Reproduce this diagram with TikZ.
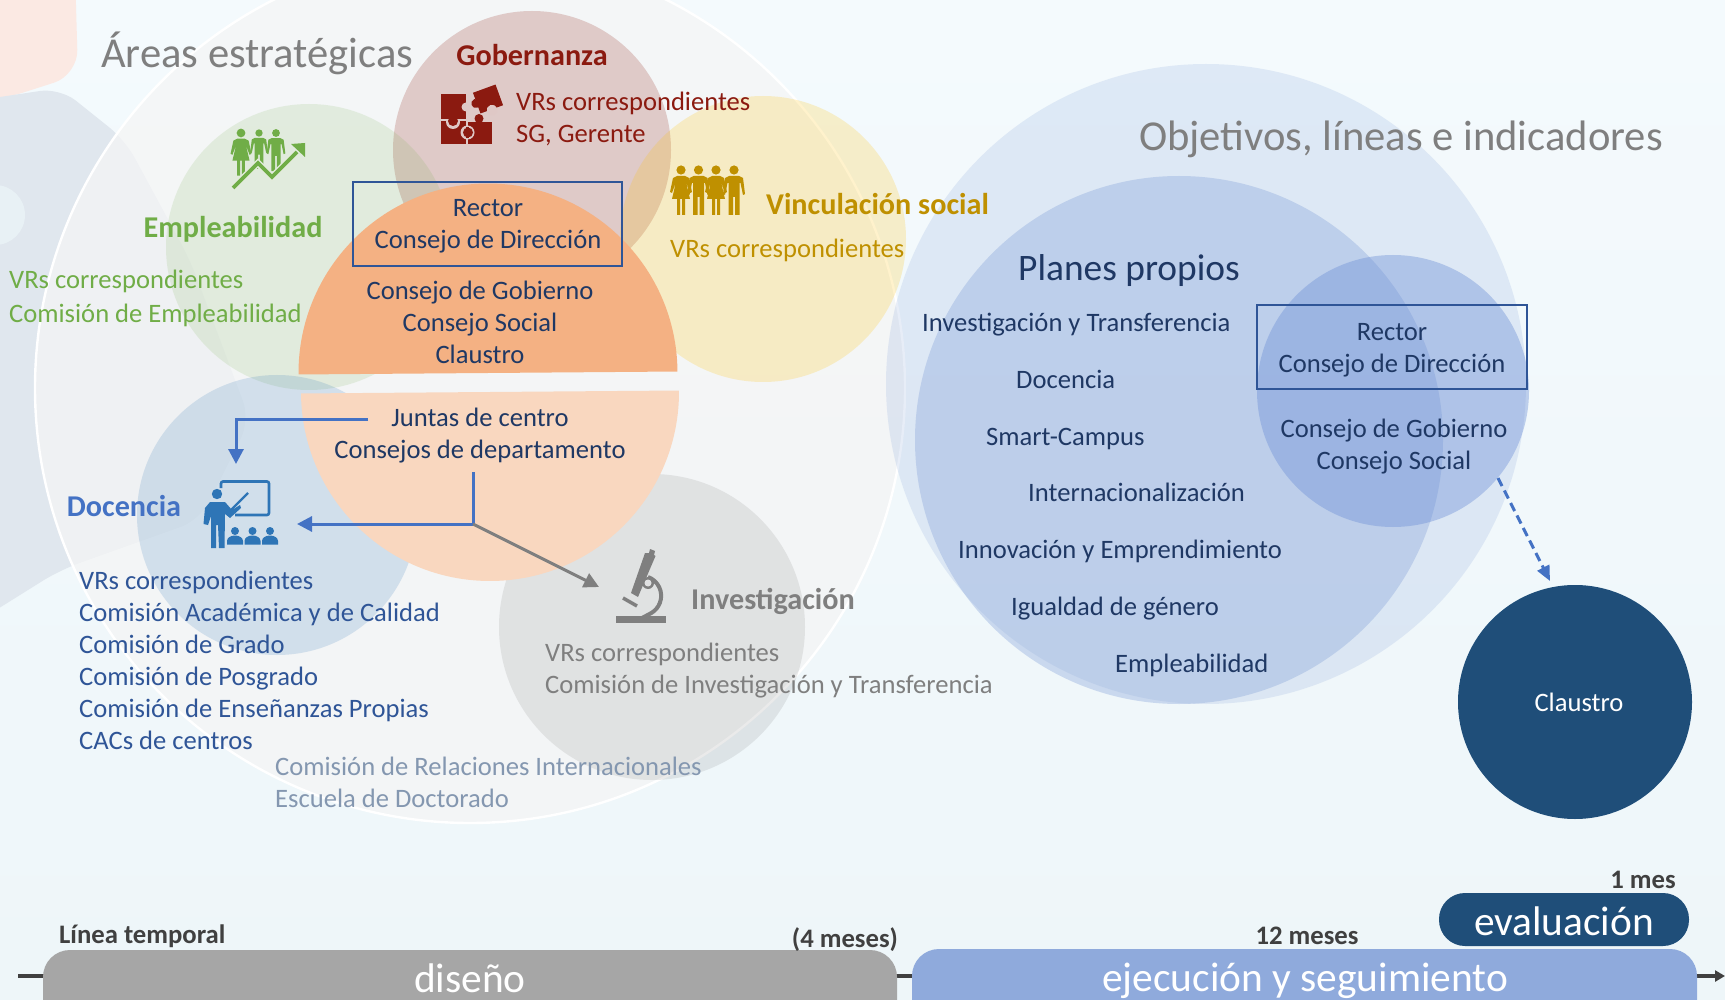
\documentclass[tikz,border=0pt]{standalone}
\usepackage{fontspec}
\setmainfont{Carlito}
\usetikzlibrary{arrows.meta}
\definecolor{navy}{HTML}{1F3864}
\definecolor{gob}{HTML}{8B1A10}
\definecolor{gre}{HTML}{70AD47}
\definecolor{ora}{HTML}{BF9000}
\definecolor{doc}{HTML}{4472C4}
\definecolor{docl}{HTML}{2F5597}
\definecolor{gra}{HTML}{7F7F7F}
\definecolor{slate}{HTML}{8497B0}
\definecolor{dark}{HTML}{404040}
\definecolor{claus}{HTML}{1F4E79}
\definecolor{teach}{HTML}{2E75B6}
\definecolor{bgT}{HTML}{F4FAFD}
\definecolor{bgB}{HTML}{EEF6F9}
\definecolor{blobR}{HTML}{FBE9E3}
\definecolor{blobB}{HTML}{E0E7EE}
\definecolor{blobC}{HTML}{E8F1F5}
\definecolor{innerC}{HTML}{F5F5F5}
\definecolor{yel}{HTML}{FFC000}
\definecolor{oraT}{HTML}{F4B183}
\definecolor{oraB}{HTML}{F9D7BF}
\definecolor{bluA}{HTML}{8FAADC}
\definecolor{bluB}{HTML}{6C8FD6}
\definecolor{gobBg}{HTML}{DFC8C6}
\definecolor{empBg}{HTML}{E3EBDC}
\definecolor{invBg}{HTML}{E0E1E2}
\definecolor{barG}{HTML}{A6A6A6}
\newcommand\fs[1]{\fontsize{#1}{32}\selectfont}
\newcommand\iconman[4]{\begin{scope}[shift={(#1,#2)},scale=#3]
\fill[#4] (0,0) circle (4.6);
\fill[#4] (-5,6)--(5,6)--(9,8)--(11,24)--(9,25)--(6.5,13)--(5.5,13)--(5.5,45)--(1,45)--(1,27)--(-1,27)--(-1,45)--(-5.5,45)--(-5.5,13)--(-6.5,13)--(-9,25)--(-11,24)--(-9,8)--cycle;
\end{scope}}
\newcommand\iconwoman[4]{\begin{scope}[shift={(#1,#2)},scale=#3]
\fill[#4] (0,0) circle (4.6);
\fill[#4] (-4,6)--(4,6)--(8,8)--(11,22)--(9,23)--(5,12)--(9,29)--(4,29)--(4,45)--(1,45)--(1,29)--(-1,29)--(-1,45)--(-4,45)--(-4,29)--(-9,29)--(-5,12)--(-9,23)--(-11,22)--(-8,8)--cycle;
\end{scope}}
\tikzset{
  x=1pt,y=-1pt,
  txt/.style={inner sep=0pt,align=left,anchor=west},
  ctr/.style={inner sep=0pt,align=center,anchor=center},
  body/.style={font=\fs{26.6}},
  head/.style={font=\bfseries\fs{30.2}},
  big/.style={font=\fs{42.6}},
  tl/.style={font=\bfseries\fs{26.7},text=dark,inner sep=0pt},
  barlab/.style={font=\fs{41.4},text=white,inner sep=0pt},
  conn/.style={draw=doc,line width=3pt},
  tip/.style={-{Triangle[length=15pt,width=15pt]}},
}
\begin{document}
\begin{tikzpicture}
\useasboundingbox (0,0) rectangle (1725,1000);
\clip (0,0) rectangle (1725,1000);
% background
\shade[top color=bgT,bottom color=bgB] (0,0) rectangle (1725,1000);
\fill[blobR,rounded corners=25pt] (-30,-30)--(75,-30)--(78,75)--(0,100)--(-30,100)--cycle;
\fill[blobB,rounded corners=20pt] (-20,100)--(60,88)--(125,140)--(190,260)--(250,420)--(200,520)--(60,570)--(-20,620)--cycle;
\fill[blobC] (-5,215) circle (30);
% big circle
\fill[innerC,opacity=.72] (470,388) circle (435);
\draw[white,line width=2.4pt] (470,388) circle (435);
% coloured discs
\fill[gob,opacity=.2] (532,150) circle (139);
\fill[gre,opacity=.14] (309,247) circle (143);
\fill[yel,opacity=.2] (763,239) circle (143);
\fill[teach,opacity=.17] (277,515) circle (140);
\fill[gra,opacity=.16] (652,627) circle (153);
% halves
\fill[oraT,rotate around={0.45:(488,373)}] (298.5,373) arc[start angle=180,end angle=360,radius=189.5]--cycle;
\fill[oraB,rotate around={0.45:(490,392)}] (301,392) arc[start angle=180,end angle=0,radius=189]--cycle;
% right discs
\fill[bluA,opacity=.21] (1206,384) circle (320);
\fill[bluA,opacity=.4] (1179,440) circle (264);
\fill[bluB,opacity=.4] (1393,391) circle (136);
\fill[claus] (1575,702) circle (117);
% boxes
\node[draw=docl,line width=2.4pt,minimum width=269pt,minimum height=84pt,inner sep=0pt] (boxL) at (487.5,224) {};
\node[draw=docl,line width=2.4pt,minimum width=270pt,minimum height=84pt,inner sep=0pt] (boxR) at (1392,347) {};
% titles
\node[txt,big,text=gra] (t1) at (101,53) {Áreas estratégicas};
\node[inner sep=0pt,anchor=east,big,text=gra] (t2) at (1663,139) {Objetivos, líneas e indicadores};
% Gobernanza
\node[ctr,head,text=gob] (gobT) at (532,55) {Gobernanza};
\node[txt,body,text=gob] (gobL) at (516,119) {VRs correspondientes\\SG, Gerente};
\fill[gob] (441,121.5) rectangle (466,144);
\fill[gob] (468,122) rectangle (492,144);
\fill[gobBg] (453,122) circle (7);
\fill[gob] (441,94) rectangle (466,119.5);
\fill[gob] (453,121) circle (5);
\fill[gobBg] (466,107) circle (4.5);
\fill[gobBg] (467.5,132.5) circle (7);
\fill[gob] (466,127) rectangle (469,138);
\fill[gob] (468,132.5) circle (5);
\fill[gob] (479,118.5) circle (4.5);
\begin{scope}[rotate around={20:(488,99)}]
\fill[gob] (476,88) rectangle (500,110);
\fill[gobBg] (488,111) circle (5.5);
\fill[gob] (475,99) circle (4.5);
\end{scope}
% Empleabilidad
\iconwoman{241}{133}{0.95}{gre}
\iconman{259}{133}{0.8}{gre}
\iconman{276}{133}{0.85}{gre}
\draw[empBg,line width=6.5pt] (233,188)--(258,163)--(272,177)--(297,152);
\draw[gre,line width=3.8pt] (233,188)--(258,163)--(272,177)--(297,152);
\fill[gre] (291,144)--(305,143)--(305,157)--cycle;
\node[ctr,head,text=gre] (empT) at (233,229) {Empleabilidad};
\node[txt,text=gre,font=\fontsize{26.6}{34}\selectfont] (empL) at (9,298) {VRs correspondientes\\Comisión de Empleabilidad};
% Vinculacion
\iconwoman{681}{170}{1}{ora}
\iconman{698.5}{170}{1}{ora}
\iconwoman{716}{170}{1}{ora}
\iconman{734}{170}{1}{ora}
\node[txt,head,text=ora] (vinT) at (766,204.5) {Vinculación social};
\node[txt,body,text=ora] (vinL) at (670,250) {VRs correspondientes};
% centre
\node[ctr,body,text=navy] (rec1) at (488,226.5) {Rector\\Consejo de Dirección};
\node[ctr,body,text=navy] (cg) at (480,322) {Consejo de Gobierno\\Consejo Social\\Claustro};
\node[ctr,body,text=navy] (jc) at (480,436) {Juntas de centro\\Consejos de departamento};
% Docencia
\node[ctr,head,text=doc] (docT) at (124,506) {Docencia};
\node[txt,body,text=docl] (docL) at (79,660) {VRs correspondientes\\Comisión Académica y de Calidad\\Comisión de Grado\\Comisión de Posgrado\\Comisión de Enseñanzas Propias\\CACs de centros};
\draw[teach,line width=2.6pt,rounded corners=2pt] (221,488)--(221,481.5)--(269,481.5)--(269,515)--(235,515);
\fill[teach] (217,494) circle (5.2);
\draw[teach,line width=2.4pt] (228,513)--(248,493);
\fill[teach] (210,502)--(225,502)--(232,510)--(240,505)--(241,508)--(230,518)--(225,514)--(224.5,548)--(219,548)--(218,525)--(216,525)--(216,548)--(211,548)--(211,516)--(208,525)--(203.5,524)--(205,508)--cycle;
\foreach \sx in {235,252.5,270}{
  \fill[teach] (\sx,531) circle (4);
  \fill[teach] (\sx-8,544.5)--(\sx-8,541) arc[start angle=180,end angle=360,x radius=8,y radius=5.5]--(\sx+8,544.5)--cycle;
}
% connectors
\coordinate (a0) at (368,419);
\coordinate (a1) at (236,419);
\coordinate (a2) at (236,464);
\coordinate (b0) at (473,472);
\coordinate (bm) at (473,524);
\coordinate (b1) at (297,524);
\coordinate (c1) at (599,587);
\coordinate (d0) at (1498,478);
\coordinate (d1) at (1550,581);
\draw[conn,tip] (a0)--(a1)--(a2);
\draw[conn,tip] (b0)--(bm)--(b1);
\draw[draw=gra,line width=3pt,-{Triangle[length=15pt,width=15pt]}] (bm)--(c1);
\draw[conn,dash pattern=on 9pt off 5pt,-{Triangle[length=15pt,width=13pt]}] (d0)--(d1);
% Investigacion
\fill[gra] (616,616) rectangle (666,623);
\fill[gra] (650,549)--(655,551)--(654,555)--(655.5,556)--(638,597)--(631,593)--(645,553)--(649,553)--cycle;
\draw[gra,line width=4pt] (648,577) arc[start angle=-70,end angle=60,radius=20] -- (642,618);
\fill[gra] (648,583) circle (6);
\fill[invBg] (648,583) circle (3.5);
\draw[gra,line width=3.5pt] (623,598)--(637,606);
\node[txt,head,text=gra] (invT) at (691,601.5) {Investigación};
\node[txt,body,text=gra] (invL) at (545,670.5) {VRs correspondientes\\Comisión de Investigación y Transferencia};
\node[txt,body,text=slate] (ri) at (275,782) {Comisión de Relaciones Internacionales\\Escuela de Doctorado};
% right
\node[ctr,font=\fs{37.4},text=navy] (pp) at (1129,271) {Planes propios};
\foreach \n/\x/\y/\t in {p1/922/325/Investigación y Transferencia,p2/1016/379/Docencia,p3/986/439/Smart-Campus,p4/1028/492/Internacionalización,p5/958/551/Innovación y Emprendimiento,p6/1011/609/Igualdad de género,p7/1115/665/Empleabilidad}{
  \node[txt,body,text=navy] (\n) at (\x,\y) {\t};
}
\node[ctr,body,text=navy] (rec2) at (1392,350) {Rector\\Consejo de Dirección};
\node[ctr,body,text=navy] (cg2) at (1394,447) {Consejo de Gobierno\\Consejo Social};
\node[ctr,font=\fs{26.6},text=white] (cl) at (1579,702) {Claustro};
% timeline
\coordinate (l0) at (18,976);
\coordinate (l1) at (1725,976);
\draw[dark,line width=3.5pt,-{Triangle[length=10pt,width=11pt]}] (l0)--(l1);
\fill[barG,rounded corners=27pt] (43,950) rectangle (897,1030);
\fill[bluA,rounded corners=27pt] (912,949) rectangle (1697,1030);
\fill[claus,rounded corners=26pt] (1439,893) rectangle (1689,946);
\node[barlab] (dis) at (470,978) {diseño};
\node[barlab] (eje) at (1305,981) {ejecución y seguimiento};
\node[barlab] (eva) at (1564,921) {evaluación};
\node[tl,anchor=west] (lt) at (59,936) {Línea temporal};
\node[tl] (m4) at (845,940) {(4 meses)};
\node[tl] (m12) at (1307,936) {12 meses};
\node[tl] (m1) at (1643,880) {1 mes};
\end{tikzpicture}
\end{document}
